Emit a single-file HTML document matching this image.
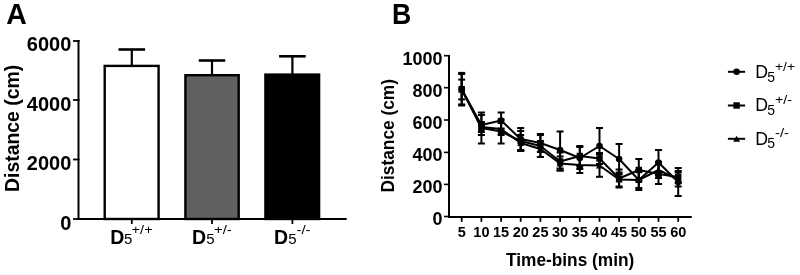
<!DOCTYPE html>
<html><head><meta charset="utf-8"><style>
html,body{margin:0;padding:0;background:#fff;}
svg{display:block;will-change:transform;}
text{font-family:"Liberation Sans",sans-serif;}
</style></head><body>
<svg width="800" height="275" viewBox="0 0 800 275">
<rect width="800" height="275" fill="#fff"/>
<text x="6.35" y="23.8"  font-weight="bold" font-size="29.3" textLength="20.6" lengthAdjust="spacingAndGlyphs">A</text>
<text x="392.1" y="23.8"  font-weight="bold" font-size="29.3" textLength="19.25" lengthAdjust="spacingAndGlyphs">B</text>
<line x1="78.5" y1="40" x2="78.5" y2="220" stroke="#000" stroke-width="2"/>
<line x1="73" y1="41" x2="79.5" y2="41" stroke="#000" stroke-width="1.8"/>
<line x1="73" y1="100" x2="79.5" y2="100" stroke="#000" stroke-width="1.8"/>
<line x1="73" y1="159.5" x2="79.5" y2="159.5" stroke="#000" stroke-width="1.8"/>
<line x1="73" y1="219" x2="79.5" y2="219" stroke="#000" stroke-width="1.8"/>
<text transform="translate(71.3,50.5) scale(1,1.05)" text-anchor="end"  font-weight="bold" font-size="20">6000</text>
<text transform="translate(71.3,110.5) scale(1,1.05)" text-anchor="end"  font-weight="bold" font-size="20">4000</text>
<text transform="translate(71.3,170.10000000000002) scale(1,1.05)" text-anchor="end"  font-weight="bold" font-size="20">2000</text>
<text transform="translate(71.3,229.8) scale(1,1.05)" text-anchor="end"  font-weight="bold" font-size="20">0</text>
<text transform="translate(19.2,191.9) rotate(-90)"  font-weight="bold" font-size="20" textLength="127" lengthAdjust="spacingAndGlyphs">Distance (cm)</text>
<rect x="104.70" y="65.90" width="53.90" height="153.10" fill="#fff" stroke="#000" stroke-width="2.4"/>
<rect x="185.40" y="75.20" width="53.30" height="143.80" fill="#606060" stroke="#000" stroke-width="2.4"/>
<rect x="265.40" y="74.60" width="53.70" height="144.40" fill="#000" stroke="#000" stroke-width="2.4"/>
<line x1="131.8" y1="49.5" x2="131.8" y2="66" stroke="#000" stroke-width="2.2"/>
<line x1="118.50000000000001" y1="49.5" x2="145.10000000000002" y2="49.5" stroke="#000" stroke-width="2.6"/>
<line x1="212" y1="60.5" x2="212" y2="75" stroke="#000" stroke-width="2.2"/>
<line x1="198.7" y1="60.5" x2="225.3" y2="60.5" stroke="#000" stroke-width="2.6"/>
<line x1="292.4" y1="56.3" x2="292.4" y2="74.4" stroke="#000" stroke-width="2.2"/>
<line x1="279.09999999999997" y1="56.3" x2="305.7" y2="56.3" stroke="#000" stroke-width="2.6"/>
<line x1="77.5" y1="219" x2="346.7" y2="219" stroke="#000" stroke-width="2"/>
<line x1="131.8" y1="219" x2="131.8" y2="224" stroke="#000" stroke-width="1.8"/>
<line x1="212" y1="219" x2="212" y2="224" stroke="#000" stroke-width="1.8"/>
<line x1="292.4" y1="219" x2="292.4" y2="224" stroke="#000" stroke-width="1.8"/>
<text x="110.15" y="243.8"  font-weight="bold" font-size="19.5">D</text>
<text x="123.95" y="244"  font-size="15">5</text>
<text x="131.60" y="233.8"  font-size="13" textLength="21.10" lengthAdjust="spacingAndGlyphs">+/+</text>
<text x="192.05" y="243.8"  font-weight="bold" font-size="19.5">D</text>
<text x="206.15" y="244"  font-size="15">5</text>
<text x="214.00" y="233.8"  font-size="13" textLength="17.80" lengthAdjust="spacingAndGlyphs">+/-</text>
<text x="274.05" y="243.8"  font-weight="bold" font-size="19.5">D</text>
<text x="288.15" y="244"  font-size="15">5</text>
<text x="296.40" y="233.8"  font-size="13" textLength="14.20" lengthAdjust="spacingAndGlyphs">-/-</text>
<line x1="449" y1="55" x2="449" y2="218" stroke="#000" stroke-width="2"/>
<line x1="444" y1="55.7" x2="450" y2="55.7" stroke="#000" stroke-width="1.6"/>
<text transform="translate(442.5,64.60000000000001) scale(1,1.04)" text-anchor="end"  font-weight="bold" font-size="18">1000</text>
<line x1="444" y1="87.7" x2="450" y2="87.7" stroke="#000" stroke-width="1.6"/>
<text transform="translate(442.5,96.60000000000001) scale(1,1.04)" text-anchor="end"  font-weight="bold" font-size="18">800</text>
<line x1="444" y1="120" x2="450" y2="120" stroke="#000" stroke-width="1.6"/>
<text transform="translate(442.5,128.9) scale(1,1.04)" text-anchor="end"  font-weight="bold" font-size="18">600</text>
<line x1="444" y1="152.4" x2="450" y2="152.4" stroke="#000" stroke-width="1.6"/>
<text transform="translate(442.5,161.3) scale(1,1.04)" text-anchor="end"  font-weight="bold" font-size="18">400</text>
<line x1="444" y1="184.4" x2="450" y2="184.4" stroke="#000" stroke-width="1.6"/>
<text transform="translate(442.5,193.3) scale(1,1.04)" text-anchor="end"  font-weight="bold" font-size="18">200</text>
<line x1="444" y1="216.5" x2="450" y2="216.5" stroke="#000" stroke-width="1.6"/>
<text transform="translate(442.5,225.4) scale(1,1.04)" text-anchor="end"  font-weight="bold" font-size="18">0</text>
<text transform="translate(394,192.5) rotate(-90)"  font-weight="bold" font-size="17.8" textLength="113.5" lengthAdjust="spacingAndGlyphs">Distance (cm)</text>
<line x1="448" y1="217" x2="691.8" y2="217" stroke="#000" stroke-width="2"/>
<line x1="461.7" y1="217" x2="461.7" y2="221.8" stroke="#000" stroke-width="1.8"/>
<text x="461.7" y="236.7" text-anchor="middle"  font-weight="bold" font-size="14.5">5</text>
<line x1="481.4" y1="217" x2="481.4" y2="221.8" stroke="#000" stroke-width="1.8"/>
<text x="481.4" y="236.7" text-anchor="middle"  font-weight="bold" font-size="14.5">10</text>
<line x1="501.1" y1="217" x2="501.1" y2="221.8" stroke="#000" stroke-width="1.8"/>
<text x="501.1" y="236.7" text-anchor="middle"  font-weight="bold" font-size="14.5">15</text>
<line x1="520.7" y1="217" x2="520.7" y2="221.8" stroke="#000" stroke-width="1.8"/>
<text x="520.7" y="236.7" text-anchor="middle"  font-weight="bold" font-size="14.5">20</text>
<line x1="540.4" y1="217" x2="540.4" y2="221.8" stroke="#000" stroke-width="1.8"/>
<text x="540.4" y="236.7" text-anchor="middle"  font-weight="bold" font-size="14.5">25</text>
<line x1="560.1" y1="217" x2="560.1" y2="221.8" stroke="#000" stroke-width="1.8"/>
<text x="560.1" y="236.7" text-anchor="middle"  font-weight="bold" font-size="14.5">30</text>
<line x1="579.8" y1="217" x2="579.8" y2="221.8" stroke="#000" stroke-width="1.8"/>
<text x="579.8" y="236.7" text-anchor="middle"  font-weight="bold" font-size="14.5">35</text>
<line x1="599.5" y1="217" x2="599.5" y2="221.8" stroke="#000" stroke-width="1.8"/>
<text x="599.5" y="236.7" text-anchor="middle"  font-weight="bold" font-size="14.5">40</text>
<line x1="619.1" y1="217" x2="619.1" y2="221.8" stroke="#000" stroke-width="1.8"/>
<text x="619.1" y="236.7" text-anchor="middle"  font-weight="bold" font-size="14.5">45</text>
<line x1="638.8" y1="217" x2="638.8" y2="221.8" stroke="#000" stroke-width="1.8"/>
<text x="638.8" y="236.7" text-anchor="middle"  font-weight="bold" font-size="14.5">50</text>
<line x1="658.5" y1="217" x2="658.5" y2="221.8" stroke="#000" stroke-width="1.8"/>
<text x="658.5" y="236.7" text-anchor="middle"  font-weight="bold" font-size="14.5">55</text>
<line x1="678.2" y1="217" x2="678.2" y2="221.8" stroke="#000" stroke-width="1.8"/>
<text x="678.2" y="236.7" text-anchor="middle"  font-weight="bold" font-size="14.5">60</text>
<text x="506" y="266.3"  font-weight="bold" font-size="18" textLength="128.3" lengthAdjust="spacingAndGlyphs">Time-bins (min)</text>
<polyline points="461.7,89.5 481.4,127.0 501.1,129.0 520.7,143.0 540.4,149.0 560.1,163.5 579.8,165.0 599.5,165.5 619.1,179.5 638.8,180.0 658.5,170.0 678.2,179.5" fill="none" stroke="#000" stroke-width="2" stroke-linejoin="round"/>
<line x1="461.7" y1="79.6" x2="461.7" y2="99.4" stroke="#000" stroke-width="2"/>
<line x1="458.2" y1="79.6" x2="465.2" y2="79.6" stroke="#000" stroke-width="2"/>
<line x1="458.2" y1="99.4" x2="465.2" y2="99.4" stroke="#000" stroke-width="2"/>
<polygon points="458.2,92.5 465.2,92.5 461.7,86.5" fill="#000"/>
<line x1="481.4" y1="122.0" x2="481.4" y2="132.0" stroke="#000" stroke-width="2"/>
<line x1="477.9" y1="122.0" x2="484.9" y2="122.0" stroke="#000" stroke-width="2"/>
<line x1="477.9" y1="132.0" x2="484.9" y2="132.0" stroke="#000" stroke-width="2"/>
<polygon points="477.9,130.0 484.9,130.0 481.4,124.0" fill="#000"/>
<line x1="501.1" y1="123.0" x2="501.1" y2="135.0" stroke="#000" stroke-width="2"/>
<line x1="497.6" y1="123.0" x2="504.6" y2="123.0" stroke="#000" stroke-width="2"/>
<line x1="497.6" y1="135.0" x2="504.6" y2="135.0" stroke="#000" stroke-width="2"/>
<polygon points="497.6,132.0 504.6,132.0 501.1,126.0" fill="#000"/>
<line x1="520.7" y1="135.0" x2="520.7" y2="151.0" stroke="#000" stroke-width="2"/>
<line x1="517.2" y1="135.0" x2="524.2" y2="135.0" stroke="#000" stroke-width="2"/>
<line x1="517.2" y1="151.0" x2="524.2" y2="151.0" stroke="#000" stroke-width="2"/>
<polygon points="517.2,146.0 524.2,146.0 520.7,140.0" fill="#000"/>
<line x1="540.4" y1="141.0" x2="540.4" y2="157.0" stroke="#000" stroke-width="2"/>
<line x1="536.9" y1="141.0" x2="543.9" y2="141.0" stroke="#000" stroke-width="2"/>
<line x1="536.9" y1="157.0" x2="543.9" y2="157.0" stroke="#000" stroke-width="2"/>
<polygon points="536.9,152.0 543.9,152.0 540.4,146.0" fill="#000"/>
<line x1="560.1" y1="156.5" x2="560.1" y2="170.5" stroke="#000" stroke-width="2"/>
<line x1="556.6" y1="156.5" x2="563.6" y2="156.5" stroke="#000" stroke-width="2"/>
<line x1="556.6" y1="170.5" x2="563.6" y2="170.5" stroke="#000" stroke-width="2"/>
<polygon points="556.6,166.5 563.6,166.5 560.1,160.5" fill="#000"/>
<line x1="579.8" y1="157.0" x2="579.8" y2="173.0" stroke="#000" stroke-width="2"/>
<line x1="576.3" y1="157.0" x2="583.3" y2="157.0" stroke="#000" stroke-width="2"/>
<line x1="576.3" y1="173.0" x2="583.3" y2="173.0" stroke="#000" stroke-width="2"/>
<polygon points="576.3,168.0 583.3,168.0 579.8,162.0" fill="#000"/>
<line x1="599.5" y1="154.2" x2="599.5" y2="176.8" stroke="#000" stroke-width="2"/>
<line x1="596.0" y1="154.2" x2="603.0" y2="154.2" stroke="#000" stroke-width="2"/>
<line x1="596.0" y1="176.8" x2="603.0" y2="176.8" stroke="#000" stroke-width="2"/>
<polygon points="596.0,168.5 603.0,168.5 599.5,162.5" fill="#000"/>
<line x1="619.1" y1="172.5" x2="619.1" y2="186.5" stroke="#000" stroke-width="2"/>
<line x1="615.6" y1="172.5" x2="622.6" y2="172.5" stroke="#000" stroke-width="2"/>
<line x1="615.6" y1="186.5" x2="622.6" y2="186.5" stroke="#000" stroke-width="2"/>
<polygon points="615.6,182.5 622.6,182.5 619.1,176.5" fill="#000"/>
<line x1="638.8" y1="172.0" x2="638.8" y2="188.0" stroke="#000" stroke-width="2"/>
<line x1="635.3" y1="172.0" x2="642.3" y2="172.0" stroke="#000" stroke-width="2"/>
<line x1="635.3" y1="188.0" x2="642.3" y2="188.0" stroke="#000" stroke-width="2"/>
<polygon points="635.3,183.0 642.3,183.0 638.8,177.0" fill="#000"/>
<line x1="658.5" y1="162.0" x2="658.5" y2="178.0" stroke="#000" stroke-width="2"/>
<line x1="655.0" y1="162.0" x2="662.0" y2="162.0" stroke="#000" stroke-width="2"/>
<line x1="655.0" y1="178.0" x2="662.0" y2="178.0" stroke="#000" stroke-width="2"/>
<polygon points="655.0,173.0 662.0,173.0 658.5,167.0" fill="#000"/>
<line x1="678.2" y1="172.5" x2="678.2" y2="186.5" stroke="#000" stroke-width="2"/>
<line x1="674.7" y1="172.5" x2="681.7" y2="172.5" stroke="#000" stroke-width="2"/>
<line x1="674.7" y1="186.5" x2="681.7" y2="186.5" stroke="#000" stroke-width="2"/>
<polygon points="674.7,182.5 681.7,182.5 678.2,176.5" fill="#000"/>
<polyline points="461.7,89.2 481.4,125.0 501.1,120.5 520.7,139.0 540.4,143.0 560.1,150.0 579.8,158.0 599.5,146.0 619.1,159.0 638.8,180.0 658.5,162.5 678.2,182.0" fill="none" stroke="#000" stroke-width="2" stroke-linejoin="round"/>
<line x1="461.7" y1="72.9" x2="461.7" y2="105.5" stroke="#000" stroke-width="2"/>
<line x1="458.2" y1="72.9" x2="465.2" y2="72.9" stroke="#000" stroke-width="2"/>
<line x1="458.2" y1="105.5" x2="465.2" y2="105.5" stroke="#000" stroke-width="2"/>
<circle cx="461.7" cy="89.2" r="3.3" fill="#000"/>
<line x1="481.4" y1="115.0" x2="481.4" y2="135.0" stroke="#000" stroke-width="2"/>
<line x1="477.9" y1="115.0" x2="484.9" y2="115.0" stroke="#000" stroke-width="2"/>
<line x1="477.9" y1="135.0" x2="484.9" y2="135.0" stroke="#000" stroke-width="2"/>
<circle cx="481.4" cy="125.0" r="3.3" fill="#000"/>
<line x1="501.1" y1="112.5" x2="501.1" y2="128.5" stroke="#000" stroke-width="2"/>
<line x1="497.6" y1="112.5" x2="504.6" y2="112.5" stroke="#000" stroke-width="2"/>
<line x1="497.6" y1="128.5" x2="504.6" y2="128.5" stroke="#000" stroke-width="2"/>
<circle cx="501.1" cy="120.5" r="3.3" fill="#000"/>
<line x1="520.7" y1="128.0" x2="520.7" y2="150.0" stroke="#000" stroke-width="2"/>
<line x1="517.2" y1="128.0" x2="524.2" y2="128.0" stroke="#000" stroke-width="2"/>
<line x1="517.2" y1="150.0" x2="524.2" y2="150.0" stroke="#000" stroke-width="2"/>
<circle cx="520.7" cy="139.0" r="3.3" fill="#000"/>
<line x1="540.4" y1="134.0" x2="540.4" y2="152.0" stroke="#000" stroke-width="2"/>
<line x1="536.9" y1="134.0" x2="543.9" y2="134.0" stroke="#000" stroke-width="2"/>
<line x1="536.9" y1="152.0" x2="543.9" y2="152.0" stroke="#000" stroke-width="2"/>
<circle cx="540.4" cy="143.0" r="3.3" fill="#000"/>
<line x1="560.1" y1="131.5" x2="560.1" y2="168.5" stroke="#000" stroke-width="2"/>
<line x1="556.6" y1="131.5" x2="563.6" y2="131.5" stroke="#000" stroke-width="2"/>
<line x1="556.6" y1="168.5" x2="563.6" y2="168.5" stroke="#000" stroke-width="2"/>
<circle cx="560.1" cy="150.0" r="3.3" fill="#000"/>
<line x1="579.8" y1="147.0" x2="579.8" y2="169.0" stroke="#000" stroke-width="2"/>
<line x1="576.3" y1="147.0" x2="583.3" y2="147.0" stroke="#000" stroke-width="2"/>
<line x1="576.3" y1="169.0" x2="583.3" y2="169.0" stroke="#000" stroke-width="2"/>
<circle cx="579.8" cy="158.0" r="3.3" fill="#000"/>
<line x1="599.5" y1="128.0" x2="599.5" y2="164.0" stroke="#000" stroke-width="2"/>
<line x1="596.0" y1="128.0" x2="603.0" y2="128.0" stroke="#000" stroke-width="2"/>
<line x1="596.0" y1="164.0" x2="603.0" y2="164.0" stroke="#000" stroke-width="2"/>
<circle cx="599.5" cy="146.0" r="3.3" fill="#000"/>
<line x1="619.1" y1="144.0" x2="619.1" y2="174.0" stroke="#000" stroke-width="2"/>
<line x1="615.6" y1="144.0" x2="622.6" y2="144.0" stroke="#000" stroke-width="2"/>
<line x1="615.6" y1="174.0" x2="622.6" y2="174.0" stroke="#000" stroke-width="2"/>
<circle cx="619.1" cy="159.0" r="3.3" fill="#000"/>
<line x1="638.8" y1="170.0" x2="638.8" y2="190.0" stroke="#000" stroke-width="2"/>
<line x1="635.3" y1="170.0" x2="642.3" y2="170.0" stroke="#000" stroke-width="2"/>
<line x1="635.3" y1="190.0" x2="642.3" y2="190.0" stroke="#000" stroke-width="2"/>
<circle cx="638.8" cy="180.0" r="3.3" fill="#000"/>
<line x1="658.5" y1="150.0" x2="658.5" y2="175.0" stroke="#000" stroke-width="2"/>
<line x1="655.0" y1="150.0" x2="662.0" y2="150.0" stroke="#000" stroke-width="2"/>
<line x1="655.0" y1="175.0" x2="662.0" y2="175.0" stroke="#000" stroke-width="2"/>
<circle cx="658.5" cy="162.5" r="3.3" fill="#000"/>
<line x1="678.2" y1="168.0" x2="678.2" y2="196.0" stroke="#000" stroke-width="2"/>
<line x1="674.7" y1="168.0" x2="681.7" y2="168.0" stroke="#000" stroke-width="2"/>
<line x1="674.7" y1="196.0" x2="681.7" y2="196.0" stroke="#000" stroke-width="2"/>
<circle cx="678.2" cy="182.0" r="3.3" fill="#000"/>
<polyline points="461.7,89.2 481.4,128.0 501.1,131.5 520.7,141.0 540.4,146.0 560.1,161.5 579.8,156.0 599.5,158.5 619.1,178.5 638.8,170.0 658.5,174.0 678.2,177.0" fill="none" stroke="#000" stroke-width="2" stroke-linejoin="round"/>
<line x1="461.7" y1="74.0" x2="461.7" y2="104.4" stroke="#000" stroke-width="2"/>
<line x1="458.2" y1="74.0" x2="465.2" y2="74.0" stroke="#000" stroke-width="2"/>
<line x1="458.2" y1="104.4" x2="465.2" y2="104.4" stroke="#000" stroke-width="2"/>
<rect x="458.5" y="86.0" width="6.4" height="6.4" fill="#000"/>
<line x1="481.4" y1="112.5" x2="481.4" y2="143.5" stroke="#000" stroke-width="2"/>
<line x1="477.9" y1="112.5" x2="484.9" y2="112.5" stroke="#000" stroke-width="2"/>
<line x1="477.9" y1="143.5" x2="484.9" y2="143.5" stroke="#000" stroke-width="2"/>
<rect x="478.2" y="124.8" width="6.4" height="6.4" fill="#000"/>
<line x1="501.1" y1="119.5" x2="501.1" y2="143.5" stroke="#000" stroke-width="2"/>
<line x1="497.6" y1="119.5" x2="504.6" y2="119.5" stroke="#000" stroke-width="2"/>
<line x1="497.6" y1="143.5" x2="504.6" y2="143.5" stroke="#000" stroke-width="2"/>
<rect x="497.9" y="128.3" width="6.4" height="6.4" fill="#000"/>
<line x1="520.7" y1="131.0" x2="520.7" y2="151.0" stroke="#000" stroke-width="2"/>
<line x1="517.2" y1="131.0" x2="524.2" y2="131.0" stroke="#000" stroke-width="2"/>
<line x1="517.2" y1="151.0" x2="524.2" y2="151.0" stroke="#000" stroke-width="2"/>
<rect x="517.5" y="137.8" width="6.4" height="6.4" fill="#000"/>
<line x1="540.4" y1="135.0" x2="540.4" y2="157.0" stroke="#000" stroke-width="2"/>
<line x1="536.9" y1="135.0" x2="543.9" y2="135.0" stroke="#000" stroke-width="2"/>
<line x1="536.9" y1="157.0" x2="543.9" y2="157.0" stroke="#000" stroke-width="2"/>
<rect x="537.2" y="142.8" width="6.4" height="6.4" fill="#000"/>
<line x1="560.1" y1="152.5" x2="560.1" y2="170.5" stroke="#000" stroke-width="2"/>
<line x1="556.6" y1="152.5" x2="563.6" y2="152.5" stroke="#000" stroke-width="2"/>
<line x1="556.6" y1="170.5" x2="563.6" y2="170.5" stroke="#000" stroke-width="2"/>
<rect x="556.9" y="158.3" width="6.4" height="6.4" fill="#000"/>
<line x1="579.8" y1="146.0" x2="579.8" y2="166.0" stroke="#000" stroke-width="2"/>
<line x1="576.3" y1="146.0" x2="583.3" y2="146.0" stroke="#000" stroke-width="2"/>
<line x1="576.3" y1="166.0" x2="583.3" y2="166.0" stroke="#000" stroke-width="2"/>
<rect x="576.6" y="152.8" width="6.4" height="6.4" fill="#000"/>
<line x1="599.5" y1="153.0" x2="599.5" y2="164.0" stroke="#000" stroke-width="2"/>
<line x1="596.0" y1="153.0" x2="603.0" y2="153.0" stroke="#000" stroke-width="2"/>
<line x1="596.0" y1="164.0" x2="603.0" y2="164.0" stroke="#000" stroke-width="2"/>
<rect x="596.3" y="155.3" width="6.4" height="6.4" fill="#000"/>
<line x1="619.1" y1="169.5" x2="619.1" y2="187.5" stroke="#000" stroke-width="2"/>
<line x1="615.6" y1="169.5" x2="622.6" y2="169.5" stroke="#000" stroke-width="2"/>
<line x1="615.6" y1="187.5" x2="622.6" y2="187.5" stroke="#000" stroke-width="2"/>
<rect x="615.9" y="175.3" width="6.4" height="6.4" fill="#000"/>
<line x1="638.8" y1="159.0" x2="638.8" y2="181.0" stroke="#000" stroke-width="2"/>
<line x1="635.3" y1="159.0" x2="642.3" y2="159.0" stroke="#000" stroke-width="2"/>
<line x1="635.3" y1="181.0" x2="642.3" y2="181.0" stroke="#000" stroke-width="2"/>
<rect x="635.6" y="166.8" width="6.4" height="6.4" fill="#000"/>
<line x1="658.5" y1="164.0" x2="658.5" y2="184.0" stroke="#000" stroke-width="2"/>
<line x1="655.0" y1="164.0" x2="662.0" y2="164.0" stroke="#000" stroke-width="2"/>
<line x1="655.0" y1="184.0" x2="662.0" y2="184.0" stroke="#000" stroke-width="2"/>
<rect x="655.3" y="170.8" width="6.4" height="6.4" fill="#000"/>
<line x1="678.2" y1="171.0" x2="678.2" y2="183.0" stroke="#000" stroke-width="2"/>
<line x1="674.7" y1="171.0" x2="681.7" y2="171.0" stroke="#000" stroke-width="2"/>
<line x1="674.7" y1="183.0" x2="681.7" y2="183.0" stroke="#000" stroke-width="2"/>
<rect x="675.0" y="173.8" width="6.4" height="6.4" fill="#000"/>
<line x1="727.9" y1="71.8" x2="745.1" y2="71.8" stroke="#000" stroke-width="2"/>
<circle cx="736.6" cy="71.8" r="3.3" fill="#000"/>
<text x="755.2" y="78.3"  font-size="17.7">D</text>
<text x="767.3" y="81.6"  font-size="14">5</text>
<text x="775.0" y="70.8"  font-size="13" textLength="20.10" lengthAdjust="spacingAndGlyphs">+/+</text>
<line x1="727.9" y1="105.5" x2="745.1" y2="105.5" stroke="#000" stroke-width="2"/>
<rect x="733.4" y="102.3" width="6.4" height="6.4" fill="#000"/>
<text x="755.2" y="111.4"  font-size="17.7">D</text>
<text x="767.3" y="114.7"  font-size="14">5</text>
<text x="775.0" y="103.9"  font-size="13" textLength="17.10" lengthAdjust="spacingAndGlyphs">+/-</text>
<line x1="727.9" y1="138.8" x2="745.1" y2="138.8" stroke="#000" stroke-width="2"/>
<polygon points="733.1,141.8 740.1,141.8 736.6,135.8" fill="#000"/>
<text x="755.2" y="144.7"  font-size="17.7">D</text>
<text x="767.3" y="148.0"  font-size="14">5</text>
<text x="775.0" y="137.2"  font-size="13" textLength="14.00" lengthAdjust="spacingAndGlyphs">-/-</text>
</svg>
</body></html>
